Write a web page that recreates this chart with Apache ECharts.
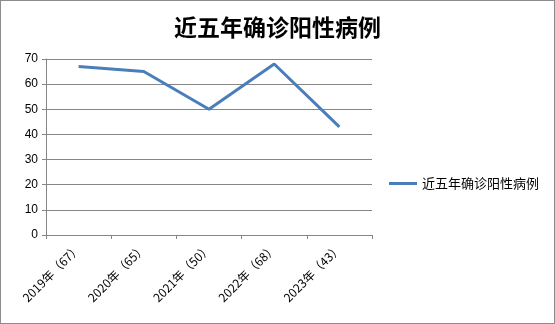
<!DOCTYPE html>
<html><head><meta charset="utf-8">
<script src="https://cdn.jsdelivr.net/npm/echarts@6/dist/echarts.min.js"></script>
<style>
html,body{margin:0;padding:0;background:#fff;}
#c{width:555px;height:324px;box-sizing:border-box;border:1px solid #8c8c8c;}
</style></head>
<body><div id="c"></div>
<script>
const titleText = '近五年确诊阳性病例';
const seriesName = '近五年确诊阳性病例';
const categories = ['2019年（67）','2020年（65）','2021年（50）','2022年（68）','2023年（43）'];
const values = [67, 65, 50, 68, 43];
const yTicks = [0, 10, 20, 30, 40, 50, 60, 70];

const chart = echarts.init(document.getElementById('c'), null, {renderer:'canvas'});
chart.setOption({
  animation:false,
  backgroundColor:'#fff',
  title:{text:titleText,left:'center',top:10,
    textStyle:{fontFamily:'"Noto Sans CJK SC"',fontSize:23,fontWeight:'bold',color:'#000'}},
  grid:{left:45,right:182,top:58,bottom:88,containLabel:false},
  legend:{left:383,top:171,icon:'rect',itemWidth:28,itemHeight:3,itemGap:6,
    textStyle:{fontFamily:'"Noto Sans CJK SC"',fontSize:13,color:'#000'},
    data:[seriesName]},
  xAxis:{type:'category',data:categories,boundaryGap:true,
    axisLine:{lineStyle:{color:'#868686',width:1}},
    axisTick:{show:true,length:4,lineStyle:{color:'#868686'}},
    axisLabel:{rotate:45,margin:11,fontSize:12,color:'#000',fontFamily:'"Noto Sans CJK SC"'}},
  yAxis:{type:'value',min:yTicks[0],max:yTicks[yTicks.length-1],interval:10,
    axisLine:{show:true,lineStyle:{color:'#868686'}},
    axisTick:{show:true,length:4,lineStyle:{color:'#868686'}},
    splitLine:{lineStyle:{color:'#868686',width:1}},
    axisLabel:{margin:8,fontSize:12,color:'#000',fontFamily:'"Liberation Sans"'}},
  series:[{name:seriesName,type:'line',data:values,showSymbol:false,symbol:'none',
    lineStyle:{color:'#4a7ebb',width:3},itemStyle:{color:'#4a7ebb'}}]
});
</script></body></html>
